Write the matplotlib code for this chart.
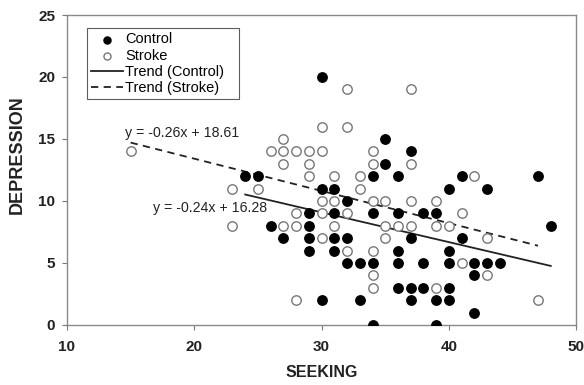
# Seeking vs depression scatter, control vs stroke, with linear trends
import numpy as np
import matplotlib
matplotlib.use("Agg")
from matplotlib import pyplot as plt

plt.rcParams["font.family"] = ["Liberation Sans", "DejaVu Sans"]

# Control group (filled)
ctrl_x = [24, 25, 30, 35, 37, 35, 34, 36, 30, 31, 32, 29, 31, 34, 36, 26, 29, 27, 29, 31,
          32, 29, 31, 32, 33, 34, 36, 36, 37, 30, 33, 37, 34,
          41, 47, 40, 43, 38, 39, 48, 37, 41, 36, 40, 38, 40, 42, 43, 44, 42, 38, 40, 39,
          40, 42, 39]
ctrl_y = [12, 12, 20, 15, 14, 13, 12, 12, 11, 11, 10, 9, 9, 9, 9, 8, 8, 7, 7, 7,
          7, 6, 6, 5, 5, 5, 5, 3, 3, 2, 2, 2, 0,
          12, 12, 11, 11, 9, 9, 8, 7, 7, 6, 6, 5, 5, 5, 5, 5, 4, 3, 3, 2,
          2, 1, 0]

# Stroke group (open)
strk_x = [15, 23, 25, 23, 30, 32, 27, 26, 27, 28, 29, 30, 34, 27, 29, 34, 37, 29, 31, 33,
          42, 33, 30, 31, 34, 35, 37, 39, 28, 30, 32, 41, 27, 28, 31, 35, 36, 37, 39, 40,
          30, 35, 43, 32, 34, 41, 43, 34, 34, 39, 28, 47, 32, 37]
strk_y = [14, 11, 11, 8, 16, 16, 15, 14, 14, 14, 14, 14, 14, 13, 13, 13, 13, 12, 12, 12,
          12, 11, 10, 10, 10, 10, 10, 10, 9, 9, 9, 9, 8, 8, 8, 8, 8, 8, 8, 8,
          7, 7, 7, 6, 6, 5, 4, 4, 3, 3, 2, 2, 19, 19]

# Trend equations (slope, intercept)
ctrl_fit = (-0.24, 16.28)
strk_fit = (-0.26, 18.61)

fig = plt.figure(figsize=(5.84, 3.85), dpi=100)
ax = fig.add_axes([0.1147, 0.156, 0.872, 0.805])

ax.scatter(ctrl_x, ctrl_y, s=46, color="black", zorder=3, label="Control")
ax.scatter(strk_x, strk_y, s=46, facecolor="white", edgecolor="#777777",
           linewidth=1.0, zorder=3, label="Stroke")

xc = np.array([min(ctrl_x), max(ctrl_x)])
ax.plot(xc, ctrl_fit[0] * xc + ctrl_fit[1], color="#222222", lw=1.3,
        label="Trend (Control)", zorder=2)
xs = np.array([min(strk_x), max(strk_x)])
ax.plot(xs, strk_fit[0] * xs + strk_fit[1], color="#222222", lw=1.3, ls=(0, (4, 3)),
        label="Trend (Stroke)", zorder=2)

ax.text(14.55, 15.5, "y = -0.26x + 18.61", fontsize=10.2, ha="left", va="center", color="#222222")
ax.text(16.75, 9.4, "y = -0.24x + 16.28", fontsize=10.2, ha="left", va="center", color="#222222")

ax.set_xlim(10, 50)
ax.set_ylim(0, 25)
ax.set_xticks([10, 20, 30, 40, 50])
ax.set_yticks([0, 5, 10, 15, 20, 25])
ax.tick_params(direction="out", length=3.5, width=0.8, color="#777777", labelsize=11)
ax.tick_params(axis="x", pad=7)
ax.tick_params(axis="y", pad=5)
for lab in ax.get_xticklabels() + ax.get_yticklabels():
    lab.set_fontweight("bold")
    lab.set_color("#222222")
for s in ax.spines.values():
    s.set_color("#8a8a8a")
    s.set_linewidth(1.0)

ax.set_xlabel("SEEKING", fontsize=11.5, fontweight="bold", labelpad=8, color="#222222")
ax.set_ylabel("DEPRESSION", fontsize=13, fontweight="bold", color="#222222")
ax.yaxis.set_label_coords(-0.081, 0.55)

leg = ax.legend(loc="upper left", bbox_to_anchor=(0.0393, 0.5, 0.299, 0.458), mode="expand",
                borderaxespad=0, fontsize=10.5, frameon=True, fancybox=False,
                handlelength=2.2, handletextpad=0.1, labelspacing=0.15, borderpad=0.3,
                markerscale=0.75)
leg.get_frame().set_edgecolor("#333333")
leg.get_frame().set_linewidth(0.8)

plt.savefig("out.png", dpi=100)
